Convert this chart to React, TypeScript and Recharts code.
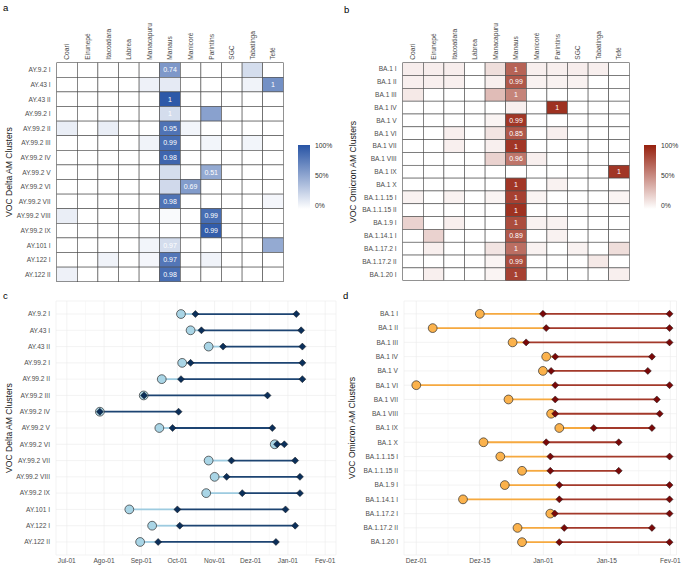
import React from "react";
import { ScatterChart, Scatter, XAxis, YAxis, CartesianGrid, ReferenceLine } from "recharts";

const FONT = "'Liberation Sans', Arial, Helvetica, sans-serif";

// municipalities (heatmap columns)
const cities = ["Coari", "Eirunepé", "Itacoatiara", "Lábrea", "Manacapuru", "Manaus", "Manicoré", "Parintins", "SGC", "Tabatinga", "Tefé"];

const deltaClusters = [
  "AY.9.2 I", "AY.43 I", "AY.43 II", "AY.99.2 I", "AY.99.2 II", "AY.99.2 III", "AY.99.2 IV", "AY.99.2 V",
  "AY.99.2 VI", "AY.99.2 VII", "AY.99.2 VIII", "AY.99.2 IX", "AY.101 I", "AY.122 I", "AY.122 II",
];

const omicronClusters = [
  "BA.1 I", "BA.1 II", "BA.1 III", "BA.1 IV", "BA.1 V", "BA.1 VI", "BA.1 VII", "BA.1 VIII", "BA.1 IX", "BA.1 X",
  "BA.1.1.15 I", "BA.1.1.15 II", "BA.1.9 I", "BA.1.14.1 I", "BA.1.17.2 I", "BA.1.17.2 II", "BA.1.20 I",
];

// tile fill (share of sequences, 0-1), row = cluster, col = city
const deltaShare = [
  [0, 0, 0, 0, 0, 0.6, 0, 0, 0, 0.2, 0],
  [0, 0, 0, 0, 0.08, 0.12, 0, 0, 0, 0.07, 0.65],
  [0, 0, 0, 0, 0, 0.97, 0, 0, 0, 0, 0],
  [0, 0, 0, 0, 0, 0.2, 0, 0.55, 0, 0, 0],
  [0.1, 0, 0.1, 0, 0, 0.82, 0.06, 0, 0, 0, 0],
  [0, 0, 0, 0, 0.07, 0.85, 0, 0.06, 0, 0.06, 0],
  [0, 0, 0, 0, 0, 0.9, 0, 0, 0, 0, 0],
  [0, 0, 0, 0, 0, 0.2, 0, 0.5, 0, 0, 0],
  [0, 0, 0, 0, 0, 0.22, 0.58, 0, 0, 0, 0],
  [0, 0, 0, 0, 0, 0.82, 0, 0, 0, 0, 0.05],
  [0.1, 0, 0, 0, 0, 0.03, 0, 0.85, 0, 0, 0],
  [0, 0, 0, 0, 0, 0, 0, 0.95, 0, 0, 0],
  [0, 0, 0, 0, 0.06, 0.2, 0, 0, 0, 0, 0.5],
  [0, 0, 0.07, 0, 0.05, 0.8, 0, 0.07, 0, 0, 0],
  [0.08, 0, 0, 0, 0, 0.85, 0, 0, 0, 0, 0],
];

const omicronShare = [
  [0.08, 0.08, 0.08, 0, 0.15, 0.7, 0.07, 0.07, 0.08, 0.07, 0],
  [0.07, 0.07, 0.07, 0, 0.07, 0.75, 0.06, 0.06, 0.06, 0, 0],
  [0.1, 0, 0, 0, 0.3, 0.55, 0, 0, 0, 0, 0],
  [0, 0, 0, 0, 0, 0.07, 0, 0.92, 0, 0, 0],
  [0, 0, 0, 0, 0.05, 0.9, 0, 0, 0, 0, 0],
  [0, 0, 0.07, 0, 0.12, 0.75, 0, 0.07, 0, 0, 0],
  [0, 0, 0.07, 0, 0.07, 0.9, 0, 0, 0, 0, 0],
  [0, 0, 0, 0, 0.2, 0.62, 0.07, 0, 0, 0, 0],
  [0, 0, 0, 0, 0, 0, 0, 0, 0, 0, 0.9],
  [0, 0, 0, 0, 0, 0.9, 0, 0.06, 0, 0, 0],
  [0.06, 0, 0.06, 0, 0.05, 0.85, 0.05, 0, 0, 0, 0.05],
  [0, 0, 0, 0, 0, 0.92, 0, 0, 0, 0, 0],
  [0.2, 0, 0.07, 0, 0, 0.8, 0.06, 0.06, 0, 0, 0],
  [0, 0.2, 0, 0, 0, 0.75, 0, 0.06, 0, 0, 0],
  [0, 0.07, 0, 0, 0.12, 0.65, 0.06, 0, 0.06, 0, 0.15],
  [0, 0, 0, 0, 0.05, 0.8, 0, 0, 0, 0.1, 0],
  [0, 0.07, 0, 0, 0.05, 0.85, 0, 0, 0, 0, 0.07],
];

// printed values: [row, col, text]
const deltaLabels: [number, number, string][] = [
  [0, 5, "0.74"], [1, 10, "1"], [2, 5, "1"], [3, 5, "1"], [4, 5, "0.95"], [5, 5, "0.99"], [6, 5, "0.98"],
  [7, 7, "0.51"], [8, 6, "0.69"], [9, 5, "0.98"], [10, 7, "0.99"], [11, 7, "0.99"], [12, 5, "0.97"],
  [13, 5, "0.97"], [14, 5, "0.98"],
];

const omicronLabels: [number, number, string][] = [
  [0, 5, "1"], [1, 5, "0.99"], [2, 5, "1"], [3, 7, "1"], [4, 5, "0.99"], [5, 5, "0.85"], [6, 5, "1"],
  [7, 5, "0.96"], [8, 10, "1"], [9, 5, "1"], [10, 5, "1"], [11, 5, "1"], [12, 5, "1"], [13, 5, "0.89"],
  [14, 5, "1"], [15, 5, "0.99"], [16, 5, "1"],
];

// panel c: days since 2021-07-01 (first detection, cluster start, cluster end)
const deltaFirst = [95, 103, 118, 96, 79, 64, 27.5, 77, 173, 118, 123, 116, 52, 71, 61];
const deltaStart = [107, 112, 130, 103, 95, 64.3, 27.5, 88, 175, 137, 133, 146, 92, 94, 76];
const deltaEnd = [191, 195, 196, 196, 196, 167, 93, 171, 181, 190, 194, 194, 182, 190, 174];
const deltaTicks = [0, 31, 62, 92, 123, 153, 184, 215];
const deltaTickLabels = ["Jul-01", "Ago-01", "Sep-01", "Oct-01", "Nov-01", "Dez-01", "Jan-01", "Fev-01"];

// panel d: days since 2021-12-01
const omicronFirst = [15.5, 4, 23.5, 31.7, 30.9, 0, 22.5, 32.9, 34.9, 16.4, 20.5, 25.8, 21.6, 11.4, 32.7, 24.7, 25.8];
const omicronStart = [30.9, 31.7, 26.8, 33.9, 32.9, 33.9, 33.9, 33.9, 43.3, 31.7, 32.7, 32.7, 34.9, 34.9, 33.8, 36.1, 34.9];
const omicronEnd = [61.8, 61.8, 61.8, 57.5, 56.5, 61.8, 58.7, 59.4, 57.5, 49.4, 61.8, 49.4, 61.8, 61.8, 61.8, 57.5, 61.8];
const omicronTicks = [0, 15.5, 31, 46.5, 62];
const omicronTickLabels = ["Dez-01", "Dez-15", "Jan-01", "Jan-15", "Fev-01"];

const BLUE: [number, number, number] = [40, 84, 165];
const RED: [number, number, number] = [150, 32, 14];

const mix = (c: [number, number, number], t: number) =>
  `rgb(${Math.round(255 + (c[0] - 255) * t)},${Math.round(255 + (c[1] - 255) * t)},${Math.round(255 + (c[2] - 255) * t)})`;

const range = (n: number) => Array.from({ length: n }, (_, i) => i);

// plain text tick so long cluster names never wrap
const rowTick = (rows: string[]) => (p: any) => (
  <text x={p.x} y={p.y} dy="0.35em" textAnchor="end" fontSize={6.6} fill="#4d4d4d" fontFamily={FONT}>
    {rows[p.payload.value]}
  </text>
);

function Heatmap(props: any) {
  const { rows, share, labels, color, left, width, height, plotLeft, plotTop, plotRight, plotBottom } = props;
  const cw = (plotRight - plotLeft) / cities.length;
  const ch = (plotBottom - plotTop) / rows.length;
  const cells = rows.flatMap((r: string, i: number) =>
    cities.map((c, j) => {
      const lab = labels.find((l: any) => l[0] === i && l[1] === j);
      return { x: j, y: i, v: share[i][j], label: lab ? lab[2] : "" };
    })
  );
  const shape = (p: any) => {
    const { cx, cy, payload } = p;
    return (
      <g>
        <rect x={cx - cw / 2} y={cy - ch / 2} width={cw} height={ch} fill={mix(color, payload.v)} stroke="#4a4a4a" strokeWidth={0.6} />
        {payload.label ? (
          <text x={cx} y={cy} dy="0.35em" textAnchor="middle" fill="#fff" fontSize={7} fontFamily={FONT}>
            {payload.label}
          </text>
        ) : null}
      </g>
    );
  };
  const colTick = (p: any) => (
    <text
      transform={`translate(${p.x},${plotTop - 3}) rotate(-90)`}
      dy="0.35em"
      textAnchor="start"
      fontSize={6.6}
      fill="#4d4d4d"
      fontFamily={FONT}
    >
      {cities[p.payload.value]}
    </text>
  );
  return (
    <div style={{ position: "absolute", left, top: 0 }}>
      <ScatterChart
        width={width}
        height={height}
        margin={{ top: 0, right: width - plotRight, bottom: height - plotBottom, left: 0 }}
      >
        <XAxis
          type="number"
          dataKey="x"
          orientation="top"
          height={plotTop}
          domain={[-0.5, cities.length - 0.5]}
          ticks={range(cities.length)}
          interval={0}
          axisLine={false}
          tickLine={false}
          tick={colTick}
        />
        <YAxis
          type="number"
          dataKey="y"
          width={plotLeft}
          reversed
          domain={[-0.5, rows.length - 0.5]}
          ticks={range(rows.length)}
          interval={0}
          axisLine={false}
          tickLine={false}
          tickSize={0}
          tickMargin={6}
          tick={rowTick(rows)}
        />
        <Scatter data={cells} shape={shape} isAnimationActive={false} />
      </ScatterChart>
    </div>
  );
}

function Dumbbell(props: any) {
  const {
    rows, first, start, end, ticks, tickLabels, domain, yPad, left, width, height,
    plotLeft, plotTop, plotRight, plotBottom, lightLine, darkLine, dotFill, diamondFill,
  } = props;
  const data = rows.map((r: string, i: number) => ({ y: i, first: first[i], start: start[i], end: end[i] }));
  const minor = ticks.slice(1).map((t: number, i: number) => (t + ticks[i]) / 2);
  const circle = (p: any) => (
    <circle cx={p.cx} cy={p.cy} r={4.4} fill={dotFill} stroke="#2e2e2e" strokeWidth={0.7} />
  );
  const diamond = (p: any) => {
    const s = 3.5;
    return (
      <polygon
        points={`${p.cx},${p.cy - s} ${p.cx + s},${p.cy} ${p.cx},${p.cy + s} ${p.cx - s},${p.cy}`}
        fill={diamondFill}
        stroke="#1a1a1a"
        strokeWidth={0.5}
      />
    );
  };
  return (
    <div style={{ position: "absolute", left, top: 285 }}>
      <ScatterChart
        width={width}
        height={height}
        margin={{ top: plotTop, right: width - plotRight, bottom: 0, left: 0 }}
      >
        <CartesianGrid stroke="#ebebeb" strokeWidth={0.6} />
        {minor.map((m: number) => (
          <ReferenceLine key={"m" + m} x={m} stroke="#f3f3f3" strokeWidth={0.5} />
        ))}
        <XAxis
          type="number"
          dataKey="x"
          height={height - plotBottom}
          domain={domain}
          ticks={ticks}
          interval={0}
          allowDataOverflow
          axisLine={false}
          tickLine={false}
          tickSize={0}
          tickMargin={3}
          tickFormatter={(v: number) => tickLabels[ticks.indexOf(v)]}
          tick={{ fontSize: 6.6, fill: "#4d4d4d", fontFamily: FONT }}
        />
        <YAxis
          type="number"
          dataKey="y"
          width={plotLeft}
          reversed
          domain={[-yPad, rows.length - 1 + yPad]}
          ticks={range(rows.length)}
          interval={0}
          allowDataOverflow
          axisLine={false}
          tickLine={false}
          tickSize={0}
          tickMargin={6}
          tick={rowTick(rows)}
        />
        {data.map((d: any) => (
          <ReferenceLine
            key={"l" + d.y}
            segment={[{ x: d.first, y: d.y }, { x: d.start, y: d.y }]}
            stroke={lightLine}
            strokeWidth={1.8}
          />
        ))}
        {data.map((d: any) => (
          <ReferenceLine
            key={"d" + d.y}
            segment={[{ x: d.start, y: d.y }, { x: d.end, y: d.y }]}
            stroke={darkLine}
            strokeWidth={1.8}
          />
        ))}
        <Scatter data={data.map((d: any) => ({ x: d.first, y: d.y }))} shape={circle} isAnimationActive={false} />
        <Scatter
          data={data.flatMap((d: any) => [{ x: d.start, y: d.y }, { x: d.end, y: d.y }])}
          shape={diamond}
          isAnimationActive={false}
        />
      </ScatterChart>
    </div>
  );
}

function ColorBar(props: any) {
  const { x, id, color } = props;
  const top = 145;
  const bottom = 209;
  return (
    <g>
      <defs>
        <linearGradient id={id} x1="0" y1="0" x2="0" y2="1">
          <stop offset="0%" stopColor={mix(color, 1)} />
          <stop offset="100%" stopColor="#ffffff" />
        </linearGradient>
      </defs>
      <rect x={x} y={top} width={12} height={bottom - top} fill={`url(#${id})`} />
      {["100%", "50%", "0%"].map((t, i) => (
        <text key={t} x={x + 17} y={top + 1 + i * 30} dy="0.35em" fontSize={6.8} fill="#333" fontFamily={FONT}>
          {t}
        </text>
      ))}
    </g>
  );
}

export default function App() {
  const title = { fontSize: 8.6, fill: "#1a1a1a", fontFamily: FONT, textAnchor: "middle" as const };
  return (
    <div style={{ position: "absolute", left: 0, top: 0, width: 683, height: 566, background: "#fff", fontFamily: FONT }}>
      <Heatmap
        rows={deltaClusters}
        share={deltaShare}
        labels={deltaLabels}
        color={BLUE}
        left={0}
        width={340}
        height={285}
        plotLeft={56.7}
        plotTop={62.7}
        plotRight={283.3}
        plotBottom={281.7}
      />
      <Heatmap
        rows={omicronClusters}
        share={omicronShare}
        labels={omicronLabels}
        color={RED}
        left={340}
        width={343}
        height={285}
        plotLeft={62.7}
        plotTop={62.7}
        plotRight={289.3}
        plotBottom={280.7}
      />
      <Dumbbell
        rows={deltaClusters}
        first={deltaFirst}
        start={deltaStart}
        end={deltaEnd}
        ticks={deltaTicks}
        tickLabels={deltaTickLabels}
        domain={[-9, 224]}
        yPad={0.8}
        left={0}
        width={340}
        height={281}
        plotLeft={56}
        plotTop={16}
        plotRight={336}
        plotBottom={270}
        lightLine="#9dcbe0"
        darkLine="#1d4472"
        dotFill="#a9d5e6"
        diamondFill="#0b2f5a"
      />
      <Dumbbell
        rows={omicronClusters}
        first={omicronFirst}
        start={omicronStart}
        end={omicronEnd}
        ticks={omicronTicks}
        tickLabels={omicronTickLabels}
        domain={[-3, 63.5]}
        yPad={0.9}
        left={340}
        width={343}
        height={281}
        plotLeft={64}
        plotTop={16}
        plotRight={336.5}
        plotBottom={270}
        lightLine="#f6a93f"
        darkLine="#a3392a"
        dotFill="#fbb24c"
        diamondFill="#7a0808"
      />
      <svg width={683} height={566} style={{ position: "absolute", left: 0, top: 0, pointerEvents: "none" }}>
        <text x={3} y={11} fontSize={9.5} fill="#000" fontFamily={FONT}>a</text>
        <text x={344} y={13} fontSize={9.5} fill="#000" fontFamily={FONT}>b</text>
        <text x={3} y={299} fontSize={9.5} fill="#000" fontFamily={FONT}>c</text>
        <text x={343} y={299} fontSize={9.5} fill="#000" fontFamily={FONT}>d</text>
        <text transform="translate(12,172) rotate(-90)" {...title}>VOC Delta AM Clusters</text>
        <text transform="translate(356,172) rotate(-90)" {...title}>VOC Omicron AM Clusters</text>
        <text transform="translate(12,428) rotate(-90)" {...title}>VOC Delta AM Clusters</text>
        <text transform="translate(355,428) rotate(-90)" {...title}>VOC Omicron AM Clusters</text>
        <ColorBar x={298} id="gradBlue" color={BLUE} />
        <ColorBar x={644} id="gradRed" color={RED} />
      </svg>
    </div>
  );
}
